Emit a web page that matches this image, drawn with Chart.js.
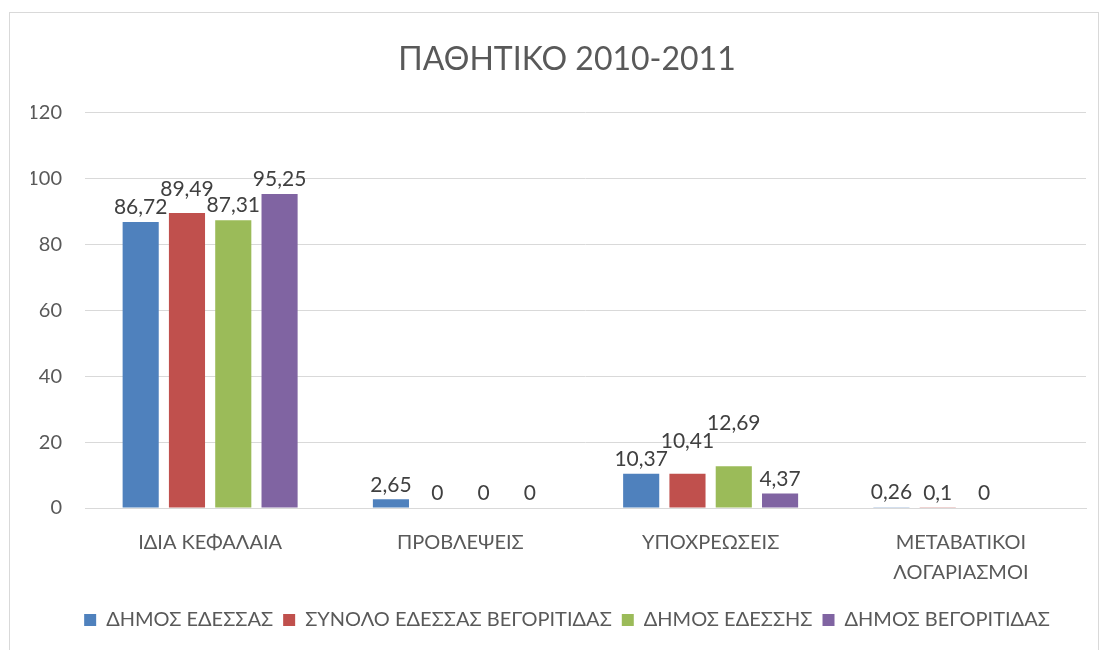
<!DOCTYPE html>
<html>
<head>
<meta charset="utf-8">
<script src="https://cdn.jsdelivr.net/npm/chart.js@4"></script>
<style>
  html, body { margin: 0; padding: 0; background: #fff; }
  #frame {
    position: absolute; left: 9px; top: 12px; width: 1090px; height: 650px;
    border: 1px solid #d9d9d9; box-sizing: border-box;
  }
  #wrap { position: absolute; left: 0; top: 0; width: 1103px; height: 650px; }
</style>
</head>
<body>
<div id="frame"></div>
<div id="wrap"><canvas id="myChart" width="1103" height="650"></canvas></div>
<script>
// Chart data
const categories = ["ΙΔΙΑ ΚΕΦΑΛΑΙΑ", "ΠΡΟΒΛΕΨΕΙΣ", "ΥΠΟΧΡΕΩΣΕΙΣ", ["ΜΕΤΑΒΑΤΙΚΟΙ", "ΛΟΓΑΡΙΑΣΜΟΙ"]];
const seriesNames = ["ΔΗΜΟΣ ΕΔΕΣΣΑΣ", "ΣΥΝΟΛΟ ΕΔΕΣΣΑΣ ΒΕΓΟΡΙΤΙΔΑΣ", "ΔΗΜΟΣ ΕΔΕΣΣΗΣ", "ΔΗΜΟΣ ΒΕΓΟΡΙΤΙΔΑΣ"];
const dimosEdessas = [86.72, 2.65, 10.37, 0.26];
const synoloEdessasVeg = [89.49, 0, 10.41, 0.1];
const dimosEdessis = [87.31, 0, 12.69, 0];
const dimosVegoritidas = [95.25, 0, 4.37, null];
const colors = ["#4f81bd", "#c0504d", "#9bbb59", "#8064a2"];
const yMax = 120;
const yStep = 20;

const fontFamily = "Lato, 'Noto Sans', sans-serif";
const textColor = "#595959";

// Draw value labels above bars, lifting a label when it runs into the previous one
const valueLabels = {
  id: "valueLabels",
  afterDatasetsDraw(chart) {
    const ctx = chart.ctx;
    const boxH = 16;
    ctx.save();
    ctx.font = "21px " + fontFamily;
    ctx.fillStyle = "#404040";
    ctx.textAlign = "center";
    ctx.textBaseline = "bottom";
    chart.data.labels.forEach((c, j) => {
      let prev = null;
      chart.data.datasets.forEach((ds, i) => {
        const v = ds.data[j];
        if (v === null || v === undefined) return;
        const bar = chart.getDatasetMeta(i).data[j];
        const txt = String(v).replace(".", ",");
        const w = ctx.measureText(txt).width;
        let bottom = bar.y - 4;
        if (prev && bar.x - w / 2 < prev.right - 2 && Math.abs(bottom - prev.bottom) < boxH) {
          bottom = prev.bottom - boxH - 2;
        }
        ctx.fillText(txt, bar.x, bottom);
        prev = { right: bar.x + w / 2, bottom: bottom };
      });
    });
    ctx.restore();
  }
};

const datasets = [dimosEdessas, synoloEdessasVeg, dimosEdessis, dimosVegoritidas].map((d, i) => ({
  label: seriesNames[i],
  data: d,
  backgroundColor: colors[i],
  borderWidth: 0,
  barPercentage: 0.78,
  categoryPercentage: 0.74
}));

const ctx = document.getElementById("myChart").getContext("2d");
new Chart(ctx, {
  type: "bar",
  data: { labels: categories, datasets: datasets },
  options: {
    responsive: false,
    animation: false,
    layout: { padding: { left: 31, right: 0, top: 36, bottom: 10 } },
    plugins: {
      title: {
        display: true,
        text: "ΠΑΘΗΤΙΚΟ 2010-2011",
        color: textColor,
        font: { family: fontFamily, size: 32, weight: "normal" },
        padding: { top: 4, bottom: 34 }
      },
      legend: {
        position: "bottom",
        labels: {
          color: textColor,
          font: { family: fontFamily, size: 20 },
          boxWidth: 12,
          boxHeight: 12,
          padding: 10
        }
      },
      tooltip: { enabled: false }
    },
    scales: {
      x: {
        grid: { display: false },
        border: { display: true, color: "#d9d9d9", width: 1 },
        ticks: {
          color: textColor,
          font: { family: fontFamily, size: 20, lineHeight: 1.5 },
          padding: 12,
          maxRotation: 0
        }
      },
      y: {
        min: 0,
        max: yMax,
        afterFit(axis) { axis.width = 54; },
        grid: { color: "#d9d9d9", lineWidth: 1, drawTicks: false },
        border: { display: false },
        ticks: {
          stepSize: yStep,
          color: textColor,
          font: { family: fontFamily, size: 20 },
          padding: 23
        }
      },
      yRight: {
        position: "right",
        afterFit(axis) { axis.width = 17; },
        grid: { display: false },
        border: { display: false },
        ticks: { display: false }
      }
    }
  },
  plugins: [valueLabels]
});
</script>
</body>
</html>
